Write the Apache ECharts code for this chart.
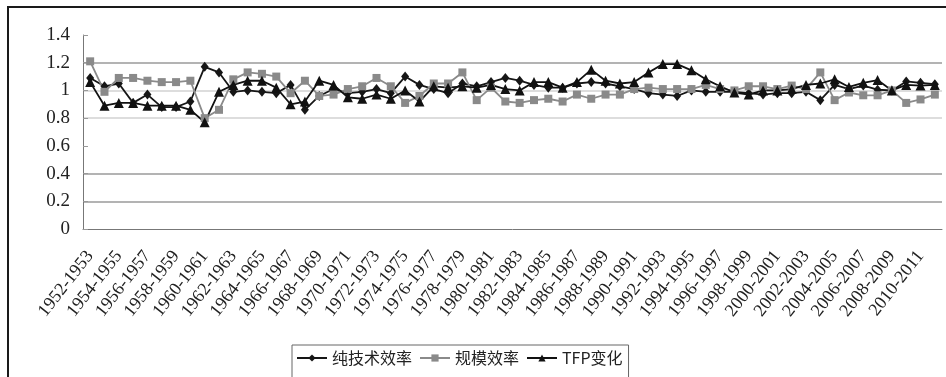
<!DOCTYPE html>
<html>
<head>
<meta charset="utf-8">
<script src="https://cdn.jsdelivr.net/npm/echarts@6/dist/echarts.min.js"></script>
<style>
  html, body { margin: 0; padding: 0; background: #fff; }
  #chart { width: 946px; height: 377px; }
</style>
</head>
<body>
<div id="chart"></div>
<script>
// Period labels (year pairs)
const periods = [
  '1952-1953','1953-1954','1954-1955','1955-1956','1956-1957','1957-1958','1958-1959','1959-1960',
  '1960-1961','1961-1962','1962-1963','1963-1964','1964-1965','1965-1966','1966-1967','1967-1968',
  '1968-1969','1969-1970','1970-1971','1971-1972','1972-1973','1973-1974','1974-1975','1975-1976',
  '1976-1977','1977-1978','1978-1979','1979-1980','1980-1981','1981-1982','1982-1983','1983-1984',
  '1984-1985','1985-1986','1986-1987','1987-1988','1988-1989','1989-1990','1990-1991','1991-1992',
  '1992-1993','1993-1994','1994-1995','1995-1996','1996-1997','1997-1998','1998-1999','1999-2000',
  '2000-2001','2001-2002','2002-2003','2003-2004','2004-2005','2005-2006','2006-2007','2007-2008',
  '2008-2009','2009-2010','2010-2011','2011-2012'
];

// 纯技术效率
const pureTechEff = [
  1.09, 1.03, 1.05, 0.91, 0.97, 0.88, 0.88, 0.92, 1.17, 1.13,
  0.99, 1.00, 0.99, 0.98, 1.04, 0.86, 0.96, 1.01, 0.98, 0.99,
  1.01, 0.98, 1.10, 1.04, 1.01, 0.98, 1.05, 1.03, 1.06, 1.09,
  1.07, 1.04, 1.02, 1.02, 1.05, 1.06, 1.05, 1.03, 1.01, 0.98,
  0.97, 0.96, 1.00, 0.99, 0.99, 0.99, 0.98, 0.97, 0.98, 0.98,
  0.99, 0.93, 1.04, 1.01, 1.035, 1.005, 1.00, 1.065, 1.055, 1.045
];

// 规模效率
const scaleEff = [
  1.21, 0.99, 1.09, 1.09, 1.07, 1.06, 1.06, 1.07, 0.80, 0.86,
  1.08, 1.13, 1.12, 1.10, 0.98, 1.07, 0.96, 0.97, 1.01, 1.03,
  1.09, 1.03, 0.91, 0.96, 1.05, 1.05, 1.13, 0.93, 1.02, 0.92,
  0.91, 0.93, 0.94, 0.92, 0.97, 0.94, 0.97, 0.97, 1.01, 1.02,
  1.01, 1.01, 1.01, 1.04, 1.01, 1.00, 1.03, 1.03, 1.01, 1.035,
  1.01, 1.13, 0.93, 0.985, 0.965, 0.965, 1.00, 0.91, 0.935, 0.97
];

// TFP变化
const tfpChange = [
  1.06, 0.89, 0.91, 0.91, 0.89, 0.89, 0.89, 0.86, 0.77, 0.99,
  1.04, 1.07, 1.07, 1.02, 0.90, 0.92, 1.07, 1.04, 0.95, 0.94,
  0.97, 0.94, 1.00, 0.92, 1.03, 1.02, 1.03, 1.02, 1.04, 1.01,
  1.00, 1.06, 1.06, 1.02, 1.06, 1.15, 1.07, 1.05, 1.06, 1.13,
  1.19, 1.19, 1.145, 1.08, 1.03, 0.985, 0.97, 1.00, 1.00, 1.01,
  1.04, 1.05, 1.08, 1.025, 1.055, 1.075, 1.00, 1.04, 1.035, 1.04
];

const yTicks = { min: 0, max: 1.4, interval: 0.2 };
// horizontal gridlines that are drawn across the plot, with their shade
const gridDark = [0.2, 0.4, 1.2];
const gridLight = [0.8, 1.0];

const serif = '"Liberation Serif", "DejaVu Serif", serif';
const cjk = '"Noto Sans CJK SC", "Liberation Serif", serif';

const chart = echarts.init(document.getElementById('chart'), null, { renderer: 'canvas' });

function lineSeries(name, data, symbol, size, color, extra) {
  return Object.assign({
    name: name,
    type: 'line',
    data: data,
    symbol: symbol,
    symbolSize: size,
    showAllSymbol: true,
    lineStyle: { color: color, width: 1.8 },
    itemStyle: { color: color, borderColor: color, borderWidth: 0 },
    emphasis: { disabled: true },
    animation: false
  }, extra || {});
}

const gridMarks = {
  markLine: {
    silent: true,
    symbol: ['none', 'none'],
    label: { show: false },
    animation: false,
    z: 0,
    data: gridDark.map(function (v) {
      return { yAxis: v, lineStyle: { color: '#9a9a9a', width: 1.5, type: 'solid' } };
    }).concat(gridLight.map(function (v) {
      return { yAxis: v, lineStyle: { color: '#d2d2d2', width: 1.5, type: 'solid' } };
    }))
  }
};

chart.setOption({
  backgroundColor: '#fff',
  animation: false,
  graphic: [{
    type: 'polyline',
    shape: { points: [[8, 377], [8, 7], [946, 7]] },
    style: { stroke: '#1a1a1a', lineWidth: 2, fill: null },
    silent: true
  }],
  grid: { left: 83, right: 4, top: 35, bottom: 148, containLabel: false },
  legend: {
    left: 292,
    top: 345,
    itemGap: 7,
    itemWidth: 30,
    itemHeight: 9,
    padding: [5, 6, 14, 4],
    borderColor: '#666',
    borderWidth: 1,
    textStyle: { fontFamily: cjk, fontSize: 16, color: '#222' },
    data: ['纯技术效率', '规模效率', 'TFP变化']
  },
  xAxis: {
    type: 'category',
    data: periods,
    boundaryGap: true,
    axisLine: { lineStyle: { color: '#777', width: 1 } },
    axisTick: { inside: true, length: 6, lineStyle: { color: '#999' } },
    axisLabel: {
      interval: 1,
      rotate: 52,
      margin: 24,
      fontFamily: serif,
      fontSize: 18,
      color: '#222'
    },
    splitLine: { show: false }
  },
  yAxis: {
    type: 'value',
    min: yTicks.min,
    max: yTicks.max,
    interval: yTicks.interval,
    axisLine: { show: true, lineStyle: { color: '#777', width: 1 } },
    axisTick: { show: true, inside: true, length: 5, lineStyle: { color: '#999' } },
    axisLabel: {
      margin: 13,
      fontFamily: serif,
      fontSize: 19,
      color: '#222',
      formatter: function (v) { return String(Math.round(v * 10) / 10); }
    },
    splitLine: { show: false }
  },
  series: [
    lineSeries('纯技术效率', pureTechEff, 'diamond', [8, 10], '#161616', gridMarks),
    lineSeries('规模效率', scaleEff, 'rect', 8, '#8a8a8a'),
    lineSeries('TFP变化', tfpChange, 'triangle', 10, '#111111')
  ]
});
</script>
</body>
</html>
